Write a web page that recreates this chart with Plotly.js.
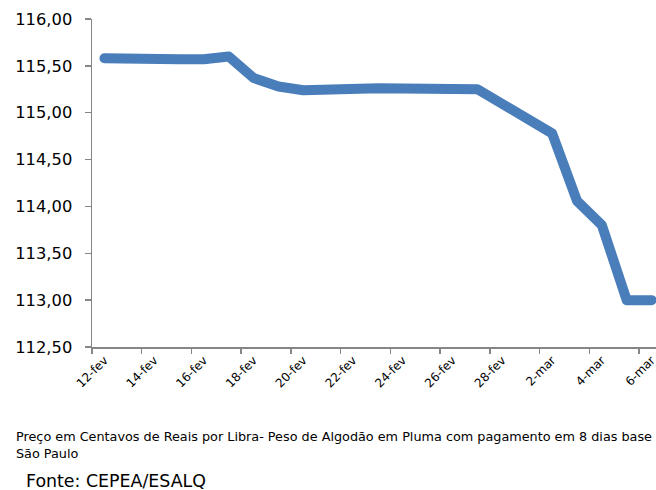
<!DOCTYPE html>
<html>
<head>
<meta charset="utf-8">
<script src="https://cdn.plot.ly/plotly-3.0.1.min.js"></script>
<style>
html, body { margin: 0; padding: 0; overflow: hidden; background: #fff; width: 656px; height: 490px; }
#chart { width: 680px; height: 490px; }
.scatterlayer .js-line { stroke-linecap: round; stroke-linejoin: round; }
</style>
</head>
<body>
<div id="chart"></div>
<script>
// Data
const dates = ['2013-02-12','2013-02-13','2013-02-14','2013-02-15','2013-02-16','2013-02-17','2013-02-18','2013-02-19','2013-02-20','2013-02-23','2013-02-27','2013-03-02','2013-03-03','2013-03-04','2013-03-05','2013-03-06'];
const prices = [115.58,115.57,115.57,115.57,115.57,115.60,115.37,115.28,115.24,115.26,115.25,114.78,114.06,113.80,113.00,113.00];
const tickDates = ['2013-02-12','2013-02-14','2013-02-16','2013-02-18','2013-02-20','2013-02-22','2013-02-24','2013-02-26','2013-02-28','2013-03-02','2013-03-04','2013-03-06'];
const tickLabels = ['12-fev','14-fev','16-fev','18-fev','20-fev','22-fev','24-fev','26-fev','28-fev','2-mar','4-mar','6-mar'];
const captionText = 'Preço em Centavos de Reais por Libra- Peso de Algodão em Pluma com pagamento em 8 dias base<br>São Paulo';
const sourceText = 'Fonte: CEPEA/ESALQ';

const axisColor = '#868686';
const DAY = 86400000;
const FONT = 'DejaVu Sans, sans-serif';

const trace = {
  x: dates,
  y: prices,
  type: 'scatter',
  mode: 'lines',
  line: { color: '#4a7ebb', width: 10 },
  hoverinfo: 'skip'
};

const layout = {
  width: 680,
  height: 490,
  margin: { l: 92, r: 16.4, t: 19.3, b: 143.3 },
  paper_bgcolor: '#ffffff',
  plot_bgcolor: '#ffffff',
  separators: ',.',
  font: { family: FONT, color: '#000000', size: 14 },
  showlegend: false,
  xaxis: {
    type: 'date',
    range: ['2013-02-11 12:00', '2013-03-06 12:00'],
    tickmode: 'array',
    tickvals: tickDates,
    ticktext: tickLabels,
    tickangle: -45,
    ticks: '',
    showgrid: false,
    zeroline: false,
    showline: true,
    linecolor: axisColor,
    linewidth: 1.5,
    tickfont: { size: 12, family: FONT },
    minor: {
      tickmode: 'linear',
      tick0: '2013-02-11 12:00',
      dtick: 2 * DAY,
      ticks: 'outside',
      ticklen: 5,
      tickcolor: axisColor,
      tickwidth: 1.5,
      showgrid: false
    },
    fixedrange: true
  },
  yaxis: {
    range: [112.5, 116],
    tickmode: 'linear',
    tick0: 112.5,
    dtick: 0.5,
    tickformat: '.2f',
    ticks: 'outside',
    ticklen: 6,
    tickcolor: axisColor,
    tickwidth: 1.5,
    showgrid: false,
    zeroline: false,
    showline: true,
    linecolor: axisColor,
    linewidth: 1.5,
    tickfont: { size: 16.3, family: FONT },
    ticklabelstandoff: 9,
    fixedrange: true
  },
  annotations: [
    {
      text: captionText,
      xref: 'paper', yref: 'paper',
      x: -0.1365, y: -0.2987,
      xanchor: 'left', yanchor: 'middle',
      align: 'left',
      showarrow: false,
      font: { size: 12.8, family: FONT, color: '#000000' }
    },
    {
      text: sourceText,
      xref: 'paper', yref: 'paper',
      x: -0.1193, y: -0.41,
      xanchor: 'left', yanchor: 'middle',
      align: 'left',
      showarrow: false,
      font: { size: 17.4, family: FONT, color: '#000000' }
    }
  ]
};

Plotly.newPlot('chart', [trace], layout, { displayModeBar: false, staticPlot: true });
</script>
</body>
</html>
